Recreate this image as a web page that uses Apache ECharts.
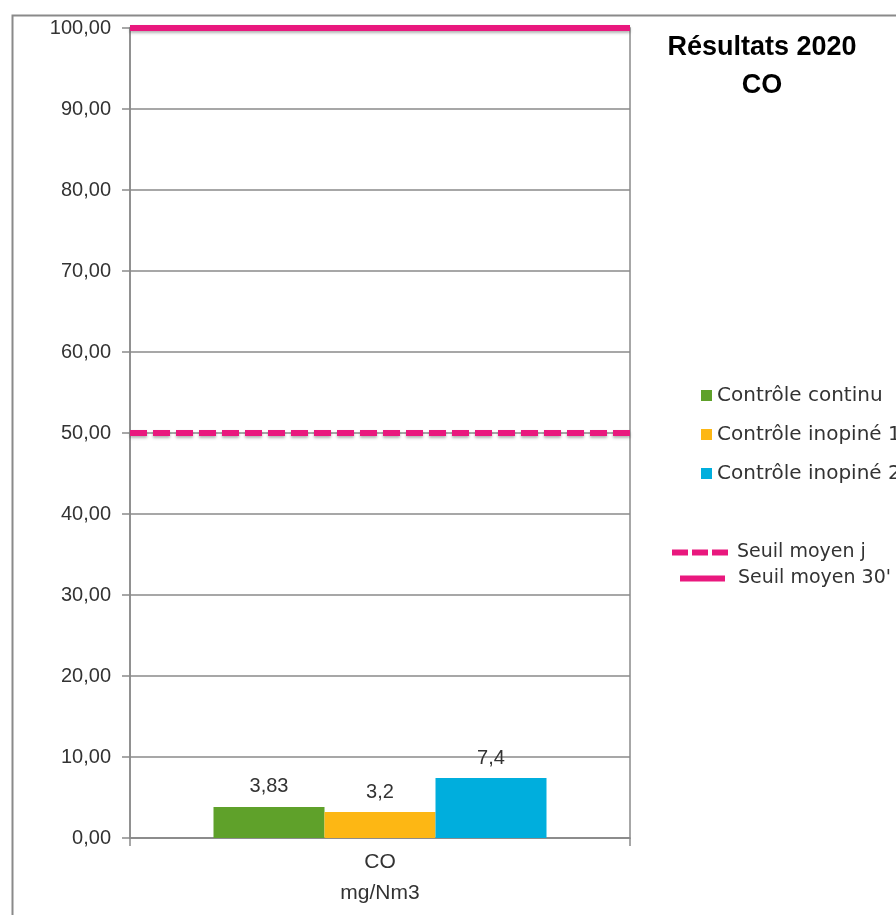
<!DOCTYPE html>
<html>
<head>
<meta charset="utf-8">
<script src="https://cdn.jsdelivr.net/npm/echarts@6/dist/echarts.min.js"></script>
<style>
  html, body { margin: 0; padding: 0; background: #fff; }
  #chart { width: 896px; height: 915px; }
</style>
</head>
<body>
<div id="chart"></div>
<script>
// Categories and measured values (mg/Nm3)
const categories = ['CO\nmg/Nm3'];
const seriesNames = ['Contrôle continu', 'Contrôle inopiné 1', 'Contrôle inopiné 2'];
const controleContinu = [3.83];
const controleInopine1 = [3.2];
const controleInopine2 = [7.4];
// Regulatory thresholds
const seuilNames = ['Seuil moyen j', "Seuil moyen 30'"];
const seuilMoyenJ = 50;
const seuilMoyen30 = 100;
const yTicks = { min: 0, max: 100, interval: 10 };

const FONT = 'DejaVu Sans';
const AXIS_FONT = 'Liberation Sans';
const barColors = ['#5fa12a', '#fdb714', '#00aedd'];
const pink = '#e9187e';
const gray = '#8a8a8a';
const fr = v => String(v).replace('.', ',');

const chart = echarts.init(document.getElementById('chart'));

function barSeries(name, data, color) {
  return {
    name, type: 'bar', data,
    barWidth: 111, barGap: '0%',
    itemStyle: { color },
    label: {
      show: true, position: 'top', distance: 10,
      fontFamily: AXIS_FONT, fontSize: 20, color: '#333',
      formatter: p => fr(p.value)
    }
  };
}

function thresholdSeries(name, value, type) {
  return {
    name, type: 'line', xAxisIndex: 1, symbol: 'none', z: 5, clip: false,
    data: [[0, value], [1, value]],
    itemStyle: { color: pink },
    lineStyle: {
      color: pink, width: 6, type,
      shadowColor: 'rgba(0,0,0,0.3)', shadowBlur: 3, shadowOffsetY: 2
    }
  };
}

const legendText = { fontFamily: FONT, fontSize: 19, color: '#333', padding: [0, 0, 0, 4] };

chart.setOption({
  animation: false,
  title: {
    text: 'Résultats 2020\nCO',
    left: 762, top: 29, padding: 0, textAlign: 'center',
    textStyle: { fontFamily: 'Liberation Sans', fontSize: 27, fontWeight: 'bold', color: '#000', lineHeight: 38 }
  },
  graphic: [{
    type: 'rect', left: 10, top: 13, silent: true,
    shape: { width: 900, height: 910 },
    style: { fill: null, stroke: gray, lineWidth: 2 }
  }],
  legend: [{
    data: seriesNames,
    orient: 'vertical', left: 701, top: 385, padding: 0,
    itemWidth: 11, itemHeight: 11, itemGap: 18, icon: 'rect',
    textStyle: { fontFamily: FONT, fontSize: 20, lineHeight: 21, color: '#333' }
  }, {
    data: [{ name: seuilNames[0], icon: 'path://M0,0h16v6h-16z M20,0h16v6h-16z M40,0h16v6h-16z' }],
    left: 672, top: 543, padding: 0,
    itemWidth: 56, itemHeight: 6,
    textStyle: legendText
  }, {
    data: [{ name: seuilNames[1], icon: 'path://M0,0h45v6h-45z' }],
    left: 680, top: 569, padding: 0,
    itemWidth: 45, itemHeight: 6,
    textStyle: Object.assign({}, legendText, { padding: [0, 0, 0, 8] })
  }],
  grid: { left: 130, right: 266, top: 28, bottom: 77, show: true, borderColor: gray, borderWidth: 1.5 },
  xAxis: [{
    type: 'category', data: categories,
    axisLine: { lineStyle: { color: gray, width: 1.5 } },
    axisTick: { show: true, length: 8, lineStyle: { color: gray, width: 1.5 } },
    axisLabel: { fontFamily: AXIS_FONT, fontSize: 21, color: '#333', margin: 9, lineHeight: 31 }
  }, {
    type: 'value', min: 0, max: 1, show: false
  }],
  yAxis: {
    type: 'value', min: yTicks.min, max: yTicks.max, interval: yTicks.interval,
    axisLine: { show: true, lineStyle: { color: gray, width: 1.5 } },
    axisTick: { show: true, length: 8, lineStyle: { color: gray, width: 1.5 } },
    splitLine: { lineStyle: { color: gray, width: 1.5 } },
    axisLabel: {
      fontFamily: AXIS_FONT, fontSize: 20, color: '#333', margin: 19,
      formatter: v => v.toFixed(2).replace('.', ',')
    }
  },
  series: [
    barSeries(seriesNames[0], controleContinu, barColors[0]),
    barSeries(seriesNames[1], controleInopine1, barColors[1]),
    barSeries(seriesNames[2], controleInopine2, barColors[2]),
    thresholdSeries(seuilNames[0], seuilMoyenJ, [17, 6]),
    thresholdSeries(seuilNames[1], seuilMoyen30, 'solid')
  ]
});
</script>
</body>
</html>
